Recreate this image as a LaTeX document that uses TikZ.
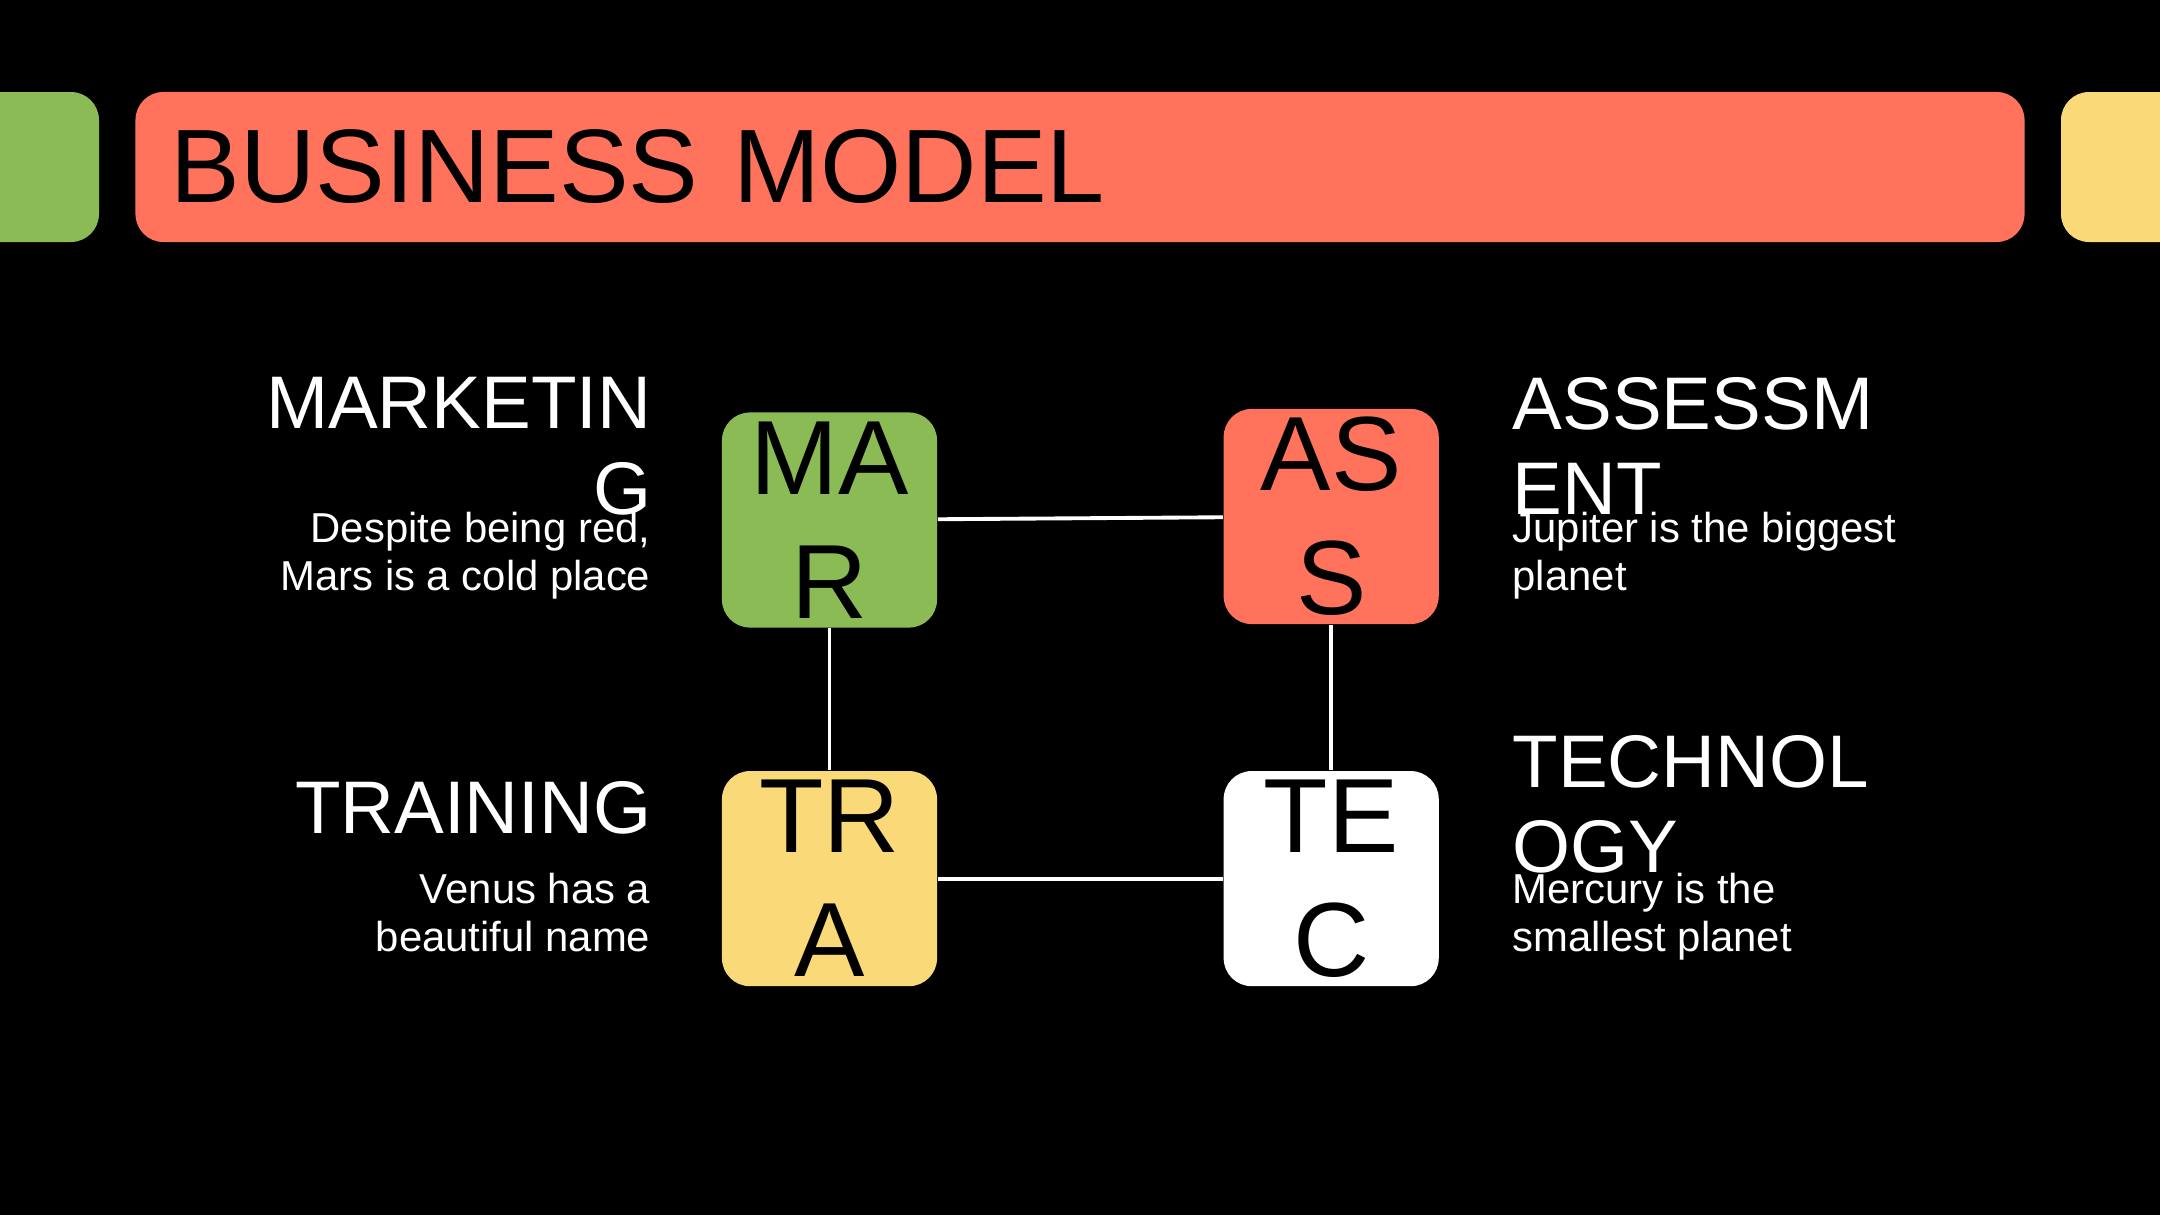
\documentclass[tikz,border=0pt]{standalone}
\usepackage{fontspec}
\setmainfont{Liberation Sans}
\usetikzlibrary{positioning}
\definecolor{margreen}{HTML}{8BBB55}
\definecolor{coral}{HTML}{FF735D}
\definecolor{sand}{HTML}{FAD978}
\tikzset{
  bar/.style={fill=coral, rounded corners=0.28cm, inner ysep=0pt, inner xsep=0.35cm,
              minimum width=18.88cm, minimum height=1.5cm, text width=18.18cm, align=left,
              text=black, font=\fontsize{29.7}{36}\selectfont},
  tile/.style={rounded corners=0.28cm, minimum size=2.15cm, inner sep=0pt, align=center,
               text=black, font=\fontsize{30}{35.3}\selectfont},
  head/.style={text=white, inner sep=0pt, font=\fontsize{21.2}{24.2}\selectfont},
  desc/.style={text=white, inner sep=0pt, font=\fontsize{11.9}{13.7}\selectfont},
  link/.style={draw=white, line width=1.1pt},
}
\begin{document}
\begin{tikzpicture}[x=0.01cm, y=-0.01cm]
  % page
  \useasboundingbox (0,0) rectangle (2160,1215);
  \fill[black] (0,0) rectangle (2160,1215);
  % header
  \fill[margreen, rounded corners=0.28cm] (-100,92) rectangle (99,242);
  \fill[sand, rounded corners=0.28cm] (2061,92) rectangle (2260,242);
  \node[bar] (title) at (1080,167) {BUSINESS MODEL};
  % tiles
  \node[tile, fill=margreen] (mar) at (829.5,520) {MA\\R};
  \node[tile, fill=coral, right=2.85cm of mar, yshift=0.035cm] (ass) {AS\\S};
  \node[tile, fill=sand, below=1.42cm of mar] (tra) {TR\\A};
  \node[tile, fill=white, right=2.85cm of tra] (tec) {TE\\C};
  \draw[link] (mar) -- (ass);
  \draw[link] (mar) -- (tra);
  \draw[link] (ass) -- (tec);
  \draw[link] (tra) -- (tec);
  % labels
  \node[head, align=right, anchor=north east] (marhead) at (652,377) {MARKETIN\\G};
  \node[desc, align=right, anchor=north east] (martext) at (651,511) {Despite being red,\\Mars is a cold place};
  \node[head, align=left, anchor=north west] (asshead) at (1512,377) {ASSESSM\\ENT};
  \node[desc, align=left, anchor=north west] (asstext) at (1512,511) {Jupiter is the biggest\\planet};
  \node[head, align=right, anchor=north east] (trahead) at (652,781) {TRAINING};
  \node[desc, align=right, anchor=north east] (tratext) at (651,872) {Venus has a\\beautiful name};
  \node[head, align=left, anchor=north west] (techead) at (1512,735) {TECHNOL\\OGY};
  \node[desc, align=left, anchor=north west] (tectext) at (1512,872) {Mercury is the\\smallest planet};
\end{tikzpicture}
\end{document}
